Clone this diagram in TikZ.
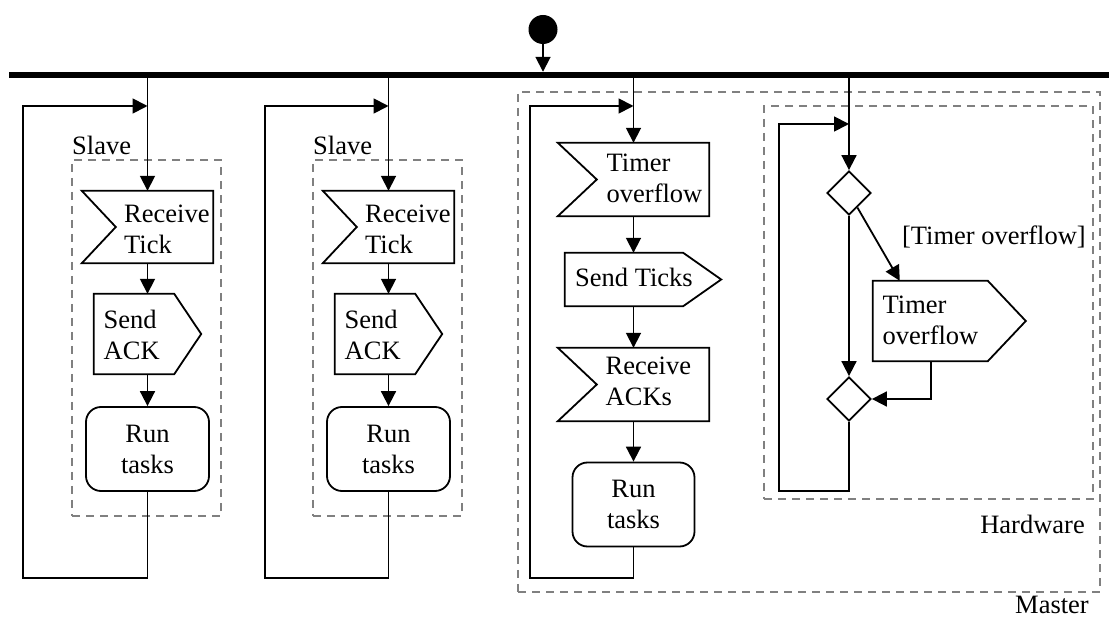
\documentclass[tikz,border=0pt]{standalone}
\usepackage{fontspec}
\setmainfont{Liberation Serif}
\usetikzlibrary{arrows.meta,shapes.geometric,calc}

\begin{document}
\begin{tikzpicture}[x=1pt,y=-1pt,
  flow/.style={line width=1.8pt,-{Triangle[length=15pt,width=15pt]}},
  plain/.style={line width=1.8pt,line join=miter},
  area/.style={draw=none,rectangle,inner sep=0pt},
  lbl/.style={font=\fontsize{26.5}{31}\selectfont,inner sep=0pt,align=left},
  group/.style={draw=gray,line width=1.6pt,dash pattern=on 8pt off 6pt,rectangle,inner sep=0pt},
  activity/.style={draw,line width=1.8pt,rectangle,rounded corners=15pt,inner sep=0pt,
    font=\fontsize{26.5}{31}\selectfont,align=center},
  decision/.style={diamond,draw,line width=1.8pt,minimum width=44pt,minimum height=44pt,
    inner sep=0pt,aspect=1},
]
\useasboundingbox (0,0) rectangle (1109,617);

% ---------- partitions ----------
\node[group,minimum width=149pt,minimum height=356pt] (slave1) at (146.5,338) {};
\node[group,minimum width=149pt,minimum height=356pt] (slave2) at (387.5,338) {};
\node[group,minimum width=582pt,minimum height=500pt] (master) at (809,342) {};
\node[group,minimum width=329pt,minimum height=393pt] (hardware) at (928.5,302.5) {};
\node[lbl,anchor=base west] (slave1L) at (72,155) {Slave};
\node[lbl,anchor=base west] (slave2L) at (313,155) {Slave};
\node[lbl,anchor=base east] (hardwareL) at (1085,533) {Hardware};
\node[lbl,anchor=base east] (masterL) at (1089,613) {Master};

% ---------- start and fork bar ----------
\node[circle,fill,minimum size=29pt,inner sep=0pt] (start) at (543,29.5) {};
\node[fill,rectangle,minimum width=1100pt,minimum height=6pt,inner sep=0pt] (bar) at (559,75) {};
\draw[flow] (start.south) -- (start.south |- bar.north);

% ---------- slave 1 ----------
\node[area,minimum width=131pt,minimum height=72pt] (s1rcv) at (147.5,227) {};
\draw[plain] (s1rcv.north west) -- (s1rcv.north east) -- (s1rcv.south east) -- (s1rcv.south west)
  -- ($(s1rcv.west)+(34,0)$) -- cycle;
\node[lbl,anchor=west] (s1rcvT) at (124,229) {Receive\\Tick};

\node[area,minimum width=107pt,minimum height=80pt] (s1snd) at (147.5,334) {};
\draw[plain] (s1snd.north west) -- ($(s1snd.north east)+(-27,0)$) -- (s1snd.east)
  -- ($(s1snd.south east)+(-27,0)$) -- (s1snd.south west) -- cycle;
\node[lbl,anchor=west] (s1sndT) at (103.5,334.5) {Send\\ACK};

\node[activity,minimum width=123pt,minimum height=84pt] (s1run) at (147.5,449) {Run\\tasks};

\coordinate (s1c) at (23,578);
\coordinate (s1j) at (147.5,106);
\draw[flow] (bar.south -| s1rcv.north) -- (s1rcv.north);
\draw[flow] (s1rcv.south) -- (s1snd.north);
\draw[flow] (s1snd.south) -- (s1run.north);
\draw[flow] (s1run.south) |- (s1c) |- (s1j);

% ---------- slave 2 ----------
\node[area,minimum width=131pt,minimum height=72pt] (s2rcv) at (388.5,227) {};
\draw[plain] (s2rcv.north west) -- (s2rcv.north east) -- (s2rcv.south east) -- (s2rcv.south west)
  -- ($(s2rcv.west)+(34,0)$) -- cycle;
\node[lbl,anchor=west] (s2rcvT) at (365,229) {Receive\\Tick};

\node[area,minimum width=107pt,minimum height=80pt] (s2snd) at (388.5,334) {};
\draw[plain] (s2snd.north west) -- ($(s2snd.north east)+(-27,0)$) -- (s2snd.east)
  -- ($(s2snd.south east)+(-27,0)$) -- (s2snd.south west) -- cycle;
\node[lbl,anchor=west] (s2sndT) at (344.5,334.5) {Send\\ACK};

\node[activity,minimum width=123pt,minimum height=84pt] (s2run) at (388.5,449) {Run\\tasks};

\coordinate (s2c) at (265,578);
\coordinate (s2j) at (388.5,106);
\draw[flow] (bar.south -| s2rcv.north) -- (s2rcv.north);
\draw[flow] (s2rcv.south) -- (s2snd.north);
\draw[flow] (s2snd.south) -- (s2run.north);
\draw[flow] (s2run.south) |- (s2c) |- (s2j);

% ---------- master ----------
\node[area,minimum width=151pt,minimum height=73pt] (mto) at (633.5,179.5) {};
\draw[plain] (mto.north west) -- (mto.north east) -- (mto.south east) -- (mto.south west)
  -- ($(mto.west)+(39,0)$) -- cycle;
\node[lbl,anchor=west] (mtoT) at (606.5,178) {Timer\\overflow};

\node[area,minimum width=156pt,minimum height=53pt] (mst) at (643,279.5) {};
\draw[plain] (mst.north west) -- ($(mst.north east)+(-38,0)$) -- (mst.east)
  -- ($(mst.south east)+(-38,0)$) -- (mst.south west) -- cycle;
\node[lbl,anchor=base west] (mstT) at (575,286.7) {Send Ticks};

\node[area,minimum width=151pt,minimum height=73pt] (mra) at (633.5,384.5) {};
\draw[plain] (mra.north west) -- (mra.north east) -- (mra.south east) -- (mra.south west)
  -- ($(mra.west)+(39,0)$) -- cycle;
\node[lbl,anchor=west] (mraT) at (605.5,381.5) {Receive\\ACKs};

\node[activity,minimum width=122pt,minimum height=84pt] (mrun) at (633.5,504.5) {Run\\tasks};

\coordinate (mc) at (530,578);
\coordinate (mj) at (633.5,106);
\draw[flow] (bar.south -| mto.north) -- (mto.north);
\draw[flow] (mto.south) -- (mto.south |- mst.north);
\draw[flow] (mst.south -| mra.north) -- (mra.north);
\draw[flow] (mra.south) -- (mrun.north);
\draw[flow] (mrun.south) |- (mc) |- (mj);

% ---------- hardware ----------
\node[decision] (d1) at (849,193) {};
\node[decision] (d2) at (849,399) {};

\node[area,minimum width=152.6pt,minimum height=80pt] (hwt) at (949.3,321) {};
\draw[plain] (hwt.north west) -- ($(hwt.north east)+(-38,0)$) -- (hwt.east)
  -- ($(hwt.south east)+(-38,0)$) -- (hwt.south west) -- cycle;
\node[lbl,anchor=west] (hwtT) at (882.5,320.5) {Timer\\overflow};

\node[lbl,anchor=base east] (guard) at (1086,245) {[Timer overflow]};

\coordinate (hwtin) at ($(hwt.north west)+(27,0)$);
\coordinate (hwtout) at ($(hwt.south west)+(58,0)$);
\coordinate (hc) at (779,491);
\coordinate (hj) at (849,124);
\draw[flow] (bar.south -| d1.north) -- (d1.north);
\draw[flow] (d1) -- (hwtin);
\draw[flow] (d1.south) -- (d2.north);
\draw[flow] (hwtout) |- (d2.east);
\draw[flow] (d2.south) |- (hc) |- (hj);
\end{tikzpicture}
\end{document}
